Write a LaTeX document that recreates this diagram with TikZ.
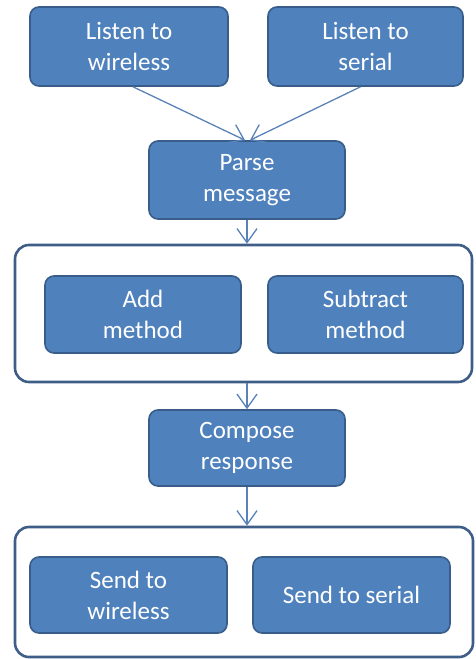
\documentclass[tikz,border=0pt]{standalone}
\usepackage{fontspec}
\setmainfont{Carlito}
\usetikzlibrary{arrows.meta}
\definecolor{boxfill}{RGB}{79,129,189}
\definecolor{boxedge}{RGB}{56,93,138}
\definecolor{groupedge}{RGB}{62,94,135}
\definecolor{flowline}{RGB}{90,130,185}
\tikzset{
  taskbox/.style={draw=boxedge, fill=boxfill, line width=1.6pt, rounded corners=9pt,
    text=white, align=center, inner sep=0pt,
    font=\fontsize{25}{31}\selectfont},
  groupbox/.style={draw=groupedge, line width=2.6pt, rounded corners=14pt, inner sep=0pt},
  flow/.style={draw=flowline, line width=1.3pt,
    -{Straight Barb[length=14pt,width=20pt,line width=1.3pt]}}
}
\begin{document}
\begin{tikzpicture}[x=1pt,y=-1pt]
\useasboundingbox (0,0) rectangle (475,659);
% containers for the parallel steps
\node[groupbox, minimum width=457pt, minimum height=137pt] (g1) at (243.5,313.5) {};
\node[groupbox, minimum width=458pt, minimum height=130pt] (g2) at (244,592) {};
% input listeners
\node[taskbox, minimum width=198pt, minimum height=79pt] (lw) at (129,46.5) {Listen to\\wireless};
\node[taskbox, minimum width=195pt, minimum height=79pt] (ls) at (365.5,46.5) {Listen to\\serial};
% parsing
\node[taskbox, minimum width=196pt, minimum height=78pt] (pm) at (247,180) {Parse\\message};
% methods
\node[taskbox, minimum width=196pt, minimum height=77pt] (am) at (143,314.5) {Add\\method};
\node[taskbox, minimum width=195pt, minimum height=77pt] (sm) at (365.5,314.5) {Subtract\\method};
% response
\node[taskbox, minimum width=196pt, minimum height=76pt] (cr) at (247,448) {Compose\\response};
% outputs
\node[taskbox, minimum width=197pt, minimum height=76pt] (sw) at (128.5,595) {Send to\\wireless};
\node[taskbox, minimum width=197pt, minimum height=76pt] (ss) at (351.5,595) {Send to serial};
% connectors
\draw[flow] ([xshift=4pt]lw.south) -- ([xshift=-2pt]pm.north);
\draw[flow] ([xshift=-5pt]ls.south) -- ([xshift=3pt]pm.north);
\draw[flow] (pm.south) -- (pm.south |- g1.north);
\draw[flow] (cr.north |- g1.south) -- (cr.north);
\draw[flow] (cr.south) -- (cr.south |- g2.north);
\end{tikzpicture}
\end{document}
